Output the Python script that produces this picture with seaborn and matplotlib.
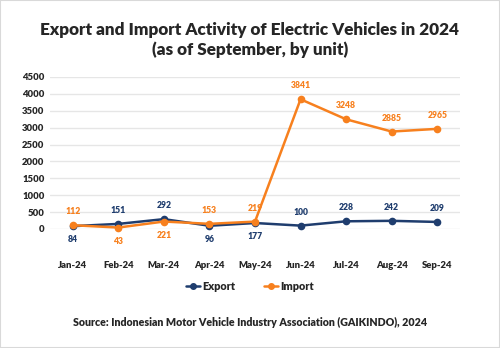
import matplotlib
matplotlib.use("Agg")
import matplotlib.pyplot as plt
import seaborn as sns
import pandas as pd
from matplotlib.lines import Line2D

months = ["Jan-24", "Feb-24", "Mar-24", "Apr-24", "May-24", "Jun-24", "Jul-24", "Aug-24", "Sep-24"]
export_vals = [84, 151, 292, 96, 177, 100, 228, 242, 209]
import_vals = [112, 43, 221, 153, 219, 3841, 3248, 2885, 2965]
# label placement: 1 above, -1 below
export_pos = [-1, 1, 1, -1, -1, 1, 1, 1, 1]
import_pos = [1, -1, -1, 1, 1, 1, 1, 1, 1]
yticks = [0, 500, 1000, 1500, 2000, 2500, 3000, 3500, 4000, 4500]

sns.set_theme(style="white")
plt.rcParams['font.family'] = ['Lato', 'DejaVu Sans']
plt.rcParams['font.weight'] = 'bold'

EXP_C = "#1F3D6E"
IMP_C = "#F7801E"

df = pd.DataFrame({
    "Month": months * 2,
    "Value": export_vals + import_vals,
    "Series": ["Export"] * len(months) + ["Import"] * len(months),
})
df["x"] = list(range(len(months))) * 2

fig = plt.figure(figsize=(5, 3.48), dpi=100)
ax = fig.add_axes([0.10, 1 - 229 / 348, 0.82, (229 - 77) / 348])

sns.lineplot(data=df, x="x", y="Value", hue="Series", palette={"Export": EXP_C, "Import": IMP_C},
             marker="o", markersize=5.5, markeredgewidth=0, linewidth=1.8, ax=ax, legend=False)
for line in ax.lines:
    line.set_clip_on(False)

ax.set_xlim(-0.5, len(months) - 0.5)
ax.set_ylim(0, 4500)
ax.set_yticks(yticks)
ax.set_yticklabels([str(t) for t in yticks], fontsize=6.8, fontweight='heavy')
ax.set_xticks(range(len(months)))
ax.set_xticklabels(months, fontsize=6.8, fontweight='heavy')
ax.tick_params(axis='x', length=0, pad=23)
ax.tick_params(axis='y', length=0, pad=4)
ax.grid(axis='y', color="#E6E6E6", linewidth=1)
ax.set_axisbelow(True)
for s in ax.spines.values():
    s.set_visible(False)
ax.set_xlabel("")
ax.set_ylabel("")

for i, (v, p) in enumerate(zip(export_vals, export_pos)):
    ax.annotate(str(v), (i, v), xytext=(0, 6.5 * p), textcoords="offset points",
                ha="center", va="bottom" if p > 0 else "top", fontsize=6.2,
                fontweight='heavy', color=EXP_C)
for i, (v, p) in enumerate(zip(import_vals, import_pos)):
    ax.annotate(str(v), (i, v), xytext=(0, 6.5 * p), textcoords="offset points",
                ha="center", va="bottom" if p > 0 else "top", fontsize=6.2,
                fontweight='heavy', color=IMP_C)

handles = [Line2D([0], [0], color=EXP_C, marker="o", markersize=4, linewidth=1.8),
           Line2D([0], [0], color=IMP_C, marker="o", markersize=4, linewidth=1.8)]
fig.legend(handles, ["Export", "Import"], loc="center", bbox_to_anchor=(0.5, 1 - 286 / 348),
           ncol=2, frameon=False, handlelength=1.3, handletextpad=0.25,
           columnspacing=2.6, prop={'weight': 'heavy', 'size': 7.8})

fig.text(0.5, 1 - 40 / 348, "Export and Import Activity of Electric Vehicles in 2024\n(as of September, by unit)",
         ha="center", va="center", fontsize=12.3, fontweight='heavy', linespacing=1.3)
fig.text(0.5, 1 - 322 / 348, "Source: Indonesian Motor Vehicle Industry Association (GAIKINDO), 2024",
         ha="center", va="center", fontsize=7.7, fontweight='heavy')

fig.patches.append(plt.Rectangle((0, 0), 1, 1, transform=fig.transFigure, fill=False,
                                 edgecolor="#D9D9D9", linewidth=1.5))
fig.savefig("out.png", dpi=100)
